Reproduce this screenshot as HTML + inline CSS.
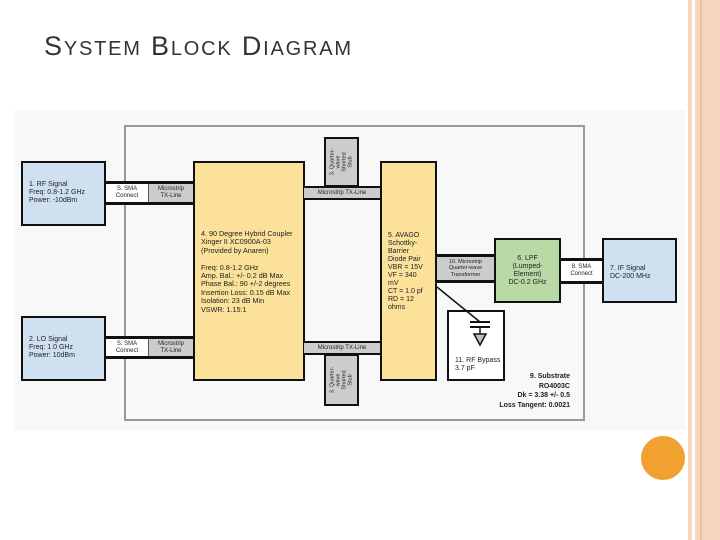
<!DOCTYPE html>
<html><head><style>
body{margin:0;width:720px;height:540px;position:relative;background:#fff;overflow:hidden;font-family:"Liberation Sans",sans-serif}
.a{position:absolute;box-sizing:border-box}
.b{border:2px solid #111}
.t{font-size:7px;line-height:8px;color:#222}
.c{display:flex;align-items:center;justify-content:center;text-align:center}
</style></head><body>
<div class="a" style="left:688px;top:0;width:32px;height:540px;background:#f6d6be"></div>
<div class="a" style="left:692px;top:0;width:3px;height:540px;background:#fff"></div>
<div class="a" style="left:700px;top:0;width:2px;height:540px;background:#eebf9c"></div>
<div class="a" style="left:641px;top:436px;width:44px;height:44px;border-radius:50%;background:#f0a12f"></div>
<div class="a" style="left:44px;top:31px;font-size:27px;color:#333;letter-spacing:1.8px;white-space:nowrap">S<span style="font-size:20px">YSTEM</span> B<span style="font-size:20px">LOCK</span> D<span style="font-size:20px">IAGRAM</span></div>
<div class="a" style="left:15px;top:110px;width:670px;height:320px;background:#f8f8f8"></div>
<div class="a" style="left:124px;top:125px;width:461px;height:296px;border:2px solid #999"></div>
<div class="a" style="left:106px;top:181px;width:87px;height:24px;border-top:3px solid #111;border-bottom:3px solid #111"></div>
<div class="a" style="left:106px;top:336px;width:87px;height:23px;border-top:3px solid #111;border-bottom:3px solid #111"></div>
<div class="a t c" style="left:106px;top:184px;width:42px;height:18px;background:#fff;font-size:6px;line-height:7px">S. SMA<br>Connect</div>
<div class="a t c" style="left:148px;top:184px;width:45px;height:18px;background:#ccc;font-size:6px;line-height:7px;border-left:1px solid #555">Microstrip<br>TX-Line</div>
<div class="a t c" style="left:106px;top:339px;width:42px;height:17px;background:#fff;font-size:6px;line-height:7px">S. SMA<br>Connect</div>
<div class="a t c" style="left:148px;top:339px;width:45px;height:17px;background:#ccc;font-size:6px;line-height:7px;border-left:1px solid #555">Microstrip<br>TX-Line</div>
<div class="a b t" style="left:21px;top:161px;width:85px;height:65px;background:#cfe0f0;padding:18px 0 0 6px">1. RF Signal<br>Freq: 0.8-1.2 GHz<br>Power: -10dBm</div>
<div class="a b t" style="left:21px;top:316px;width:85px;height:65px;background:#cfe0f0;padding:18px 0 0 6px">2. LO Signal<br>Freq: 1.0 GHz<br>Power: 10dBm</div>
<div class="a b t" style="left:193px;top:161px;width:112px;height:220px;background:#fbe19a;padding:67px 0 0 6px;font-size:7.2px;line-height:8.4px">4. 90 Degree Hybrid Coupler<br>Xinger II XC0900A-03<br>(Provided by Anaren)<br><br>Freq: 0.8-1.2 GHz<br>Amp. Bal.: +/- 0.2 dB Max<br>Phase Bal.: 90 +/-2 degrees<br>Insertion Loss: 0.15 dB Max<br>Isolation: 23 dB Min<br>VSWR: 1.15:1</div>
<div class="a t c" style="left:304px;top:186px;width:76px;height:14px;background:#ccc;border-top:2px solid #111;border-bottom:2px solid #111;font-size:6px">Microstrip TX-Line</div>
<div class="a t c" style="left:304px;top:341px;width:76px;height:14px;background:#ccc;border-top:2px solid #111;border-bottom:2px solid #111;font-size:6px">Microstrip TX-Line</div>
<div class="a b c" style="left:324px;top:137px;width:35px;height:50px;background:#ccc"><div style="transform:rotate(-90deg);font-size:5.5px;line-height:6px;white-space:nowrap;color:#222">3. Quarter-<br>wave<br>Shorted<br>Stub</div></div>
<div class="a b c" style="left:324px;top:354px;width:35px;height:52px;background:#ccc"><div style="transform:rotate(-90deg);font-size:5.5px;line-height:6px;white-space:nowrap;color:#222">3. Quarter-<br>wave<br>Shorted<br>Stub</div></div>
<div class="a b t" style="left:380px;top:161px;width:57px;height:220px;background:#fbe19a;padding:69px 0 0 6px">5. AVAGO<br>Schottky-<br>Barrier<br>Diode Pair<br>VBR = 15V<br>VF = 340<br>mV<br>CT = 1.0 pf<br>RD = 12<br>ohms</div>
<div class="a t c" style="left:437px;top:254px;width:57px;height:29px;background:#ccc;border-top:3px solid #111;border-bottom:3px solid #111;font-size:5.5px;line-height:6.5px">10. Microstrip<br>Quarter-wave<br>Transformer</div>
<div class="a b t c" style="left:494px;top:238px;width:67px;height:65px;background:#b9d9a7;font-size:7px">6. LPF<br>(Lumped-<br>Element)<br>DC-0.2 GHz</div>
<div class="a t c" style="left:561px;top:258px;width:41px;height:26px;background:#fff;border-top:3px solid #111;border-bottom:3px solid #111;font-size:6px;line-height:7px">8. SMA<br>Connect</div>
<div class="a b t" style="left:602px;top:238px;width:75px;height:65px;background:#cfe0f0;padding:25px 0 0 6px">7. IF Signal<br>DC-200 MHz</div>
<div class="a b t" style="left:447px;top:310px;width:58px;height:71px;background:#fff;padding:45px 0 0 6px">11. RF Bypass<br>3.7 pF</div>
<svg class="a" style="left:0;top:0" width="720" height="540">
<line x1="437" y1="287" x2="480" y2="322" stroke="#111" stroke-width="1.5"/>
<line x1="470" y1="322" x2="490" y2="322" stroke="#111" stroke-width="2"/>
<line x1="470" y1="327" x2="490" y2="327" stroke="#111" stroke-width="2"/>
<line x1="480" y1="327" x2="480" y2="334" stroke="#111" stroke-width="1.5"/>
<polygon points="474,334 486,334 480,345" fill="#aac4dc" stroke="#111" stroke-width="1.5"/>
</svg>
<div class="a t" style="left:480px;top:372px;width:90px;text-align:right;font-size:7px;line-height:9.5px;font-weight:bold;color:#222">9. Substrate<br>RO4003C<br>Dk = 3.38 +/- 0.5<br>Loss Tangent: 0.0021</div>
</body></html>
